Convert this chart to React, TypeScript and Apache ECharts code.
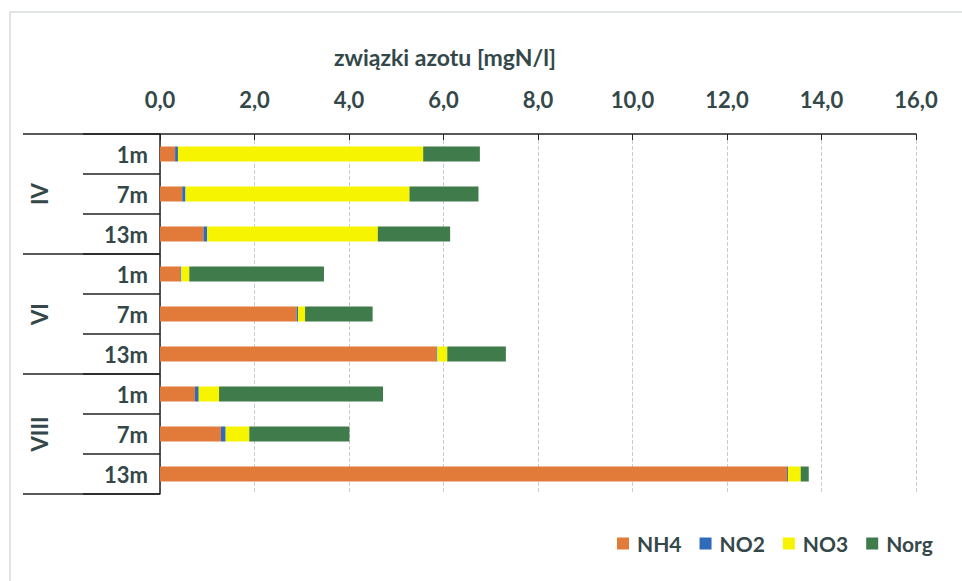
import React, { useEffect, useRef } from "react";
import * as echarts from "echarts";

const depths = ["1m", "7m", "13m", "1m", "7m", "13m", "1m", "7m", "13m"];
const months = ["IV", "VI", "VIII"];
const nh4 = [0.32, 0.47, 0.92, 0.43, 2.89, 5.85, 0.74, 1.29, 13.27];
const no2 = [0.06, 0.07, 0.08, 0.02, 0.03, 0.02, 0.08, 0.1, 0.02];
const no3 = [5.19, 4.74, 3.61, 0.17, 0.15, 0.21, 0.43, 0.5, 0.27];
const norg = [1.2, 1.46, 1.53, 2.85, 1.43, 1.24, 3.47, 2.12, 0.17];
const axisTitle = "związki azotu [mgN/l]";

const FONT = "Lato, 'Open Sans', sans-serif";
const TXT = "#34484a";

export default function App() {
  const ref = useRef<HTMLDivElement>(null);
  useEffect(() => {
    if (!ref.current) return;
    const chart = echarts.init(ref.current, undefined, { renderer: "svg" });
    const mk = (name: string, data: number[], color: string) => ({
      name,
      type: "bar",
      stack: "n",
      data,
      barWidth: 15,
      itemStyle: { color },
      yAxisIndex: 0,
    });
    chart.setOption({
      animation: false,
      textStyle: { fontFamily: FONT },
      title: {
        text: axisTitle,
        left: 440,
        top: 40,
        textAlign: "center",
        textStyle: { fontSize: 23, fontWeight: "bold", color: TXT, fontFamily: FONT },
      },
      graphic: [
        {
          type: "rect",
          shape: { x: 10, y: 12, width: 1000, height: 1000 },
          style: { fill: "none", stroke: "#d6dbdb", lineWidth: 1.5 },
          silent: true,
        },
      ],
      grid: { left: 160, right: 46, top: 134, bottom: 87 },
      legend: {
        left: 612,
        top: 528,
        width: 345,
        icon: "rect",
        itemWidth: 12,
        itemHeight: 12,
        itemGap: 18,
        textStyle: {
          fontSize: 21,
          fontWeight: "bold",
          color: TXT,
          fontFamily: FONT,
          padding: [0, 0, 0, 3],
        },
        data: ["NH4", "NO2", "NO3", "Norg"],
      },
      xAxis: {
        type: "value",
        position: "top",
        min: 0,
        max: 16,
        interval: 2,
        axisLine: { show: true, lineStyle: { color: "#222", width: 1.5 } },
        axisTick: { show: true, inside: true, length: 6, lineStyle: { color: "#222" } },
        axisLabel: {
          fontSize: 22,
          fontWeight: "bold",
          color: TXT,
          margin: 24,
          formatter: (v: number) => v.toFixed(1).replace(".", ","),
        },
        splitLine: { show: true, lineStyle: { color: "#c8ccd0", type: "dashed" } },
      },
      yAxis: [
        {
          type: "category",
          inverse: true,
          data: depths,
          axisLine: { show: true, lineStyle: { color: "#222", width: 1.5 } },
          axisTick: { show: true, length: 77, lineStyle: { color: "#222", width: 1.5 } },
          axisLabel: { fontSize: 22, fontWeight: "bold", color: TXT, margin: 12 },
        },
        {
          type: "category",
          inverse: true,
          position: "left",
          data: months,
          axisLine: { show: false },
          axisTick: { show: true, length: 137, lineStyle: { color: "#222", width: 1.5 } },
          axisLabel: { fontSize: 22, fontWeight: "bold", color: TXT, rotate: 90, margin: 110 },
        },
      ],
      series: [
        mk("NH4", nh4, "#E27B3A"),
        mk("NO2", no2, "#2F6BB8"),
        mk("NO3", no3, "#F7F400"),
        mk("Norg", norg, "#3F7B4B"),
      ],
    });
    return () => chart.dispose();
  }, []);
  return (
    <div
      ref={ref}
      style={{ position: "fixed", left: 0, top: 0, width: 962, height: 581, background: "#fff" }}
    />
  );
}
